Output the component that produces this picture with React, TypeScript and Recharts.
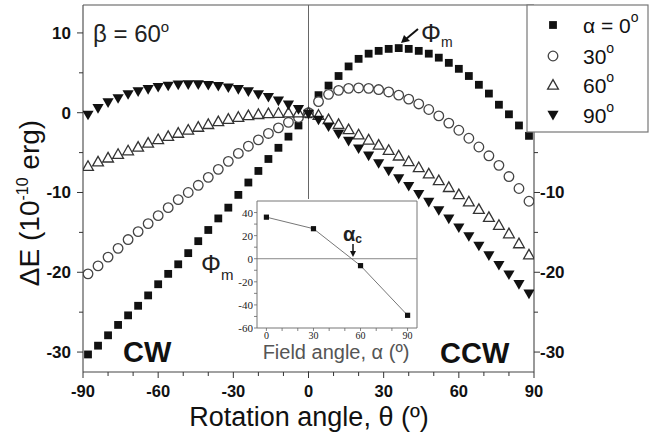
import React from 'react';
import {
  ScatterChart, Scatter, XAxis, YAxis, ReferenceLine,
  LineChart, Line,
} from 'recharts';

// ---------- data ----------
const theta = [-88, -84, -80, -76, -72, -68, -64, -60, -56, -52, -48, -44, -40, -36, -32, -28, -24, -20, -16, -12, -8, -4, 0, 4, 8, 12, 16, 20, 24, 28, 32, 36, 40, 44, 48, 52, 56, 60, 64, 68, 72, 76, 80, 84, 88];
const alpha0 = [-30.3, -29.2, -27.9, -26.6, -25.4, -24.2, -22.9, -21.5, -20.2, -19.0, -17.6, -16.1, -14.7, -13.25, -11.9, -10.3, -8.75, -7.3, -5.8, -4.4, -3.0, -1.6, -0.2, 2.2, 3.4, 4.6, 5.8, 6.75, 7.4, 7.75, 8.0, 8.1, 8.0, 7.75, 7.4, 6.9, 6.25, 5.5, 4.6, 3.5, 2.4, 1.0, -0.2, -1.6, -2.9];
const alpha30 = [-20.2, -19.2, -18.1, -17.0, -15.9, -14.9, -13.9, -12.9, -11.9, -10.9, -10.0, -9.1, -8.1, -7.1, -6.1, -5.1, -4.2, -3.4, -2.6, -1.9, -1.2, -0.6, 0, 1.4, 2.3, 2.8, 3.05, 3.1, 3.05, 2.9, 2.6, 2.2, 1.7, 1.1, 0.4, -0.4, -1.3, -2.2, -3.2, -4.3, -5.4, -6.6, -8.0, -9.5, -11.1];
const alpha60 = [-6.7, -6.15, -5.65, -5.2, -4.75, -4.3, -3.8, -3.35, -2.95, -2.55, -2.15, -1.8, -1.45, -1.1, -0.8, -0.55, -0.35, -0.2, -0.1, -0.05, 0, 0, 0, -0.3, -0.85, -1.45, -2.1, -2.75, -3.4, -4.05, -4.7, -5.4, -6.1, -6.85, -7.65, -8.5, -9.35, -10.25, -11.15, -12.1, -13.1, -14.1, -15.15, -16.4, -17.8];
const alpha90 = [-0.28, 0.55, 1.27, 1.8, 2.3, 2.65, 2.94, 3.2, 3.36, 3.5, 3.53, 3.53, 3.45, 3.32, 3.15, 2.94, 2.65, 2.3, 1.95, 1.5, 1.0, 0.43, -0.15, -0.9, -1.75, -2.65, -3.55, -4.5, -5.4, -6.35, -7.3, -8.25, -9.2, -10.2, -11.2, -12.25, -13.3, -14.4, -15.5, -16.7, -17.9, -19.1, -20.3, -21.5, -22.7];

const xTicks = [-90, -80, -70, -60, -50, -40, -30, -20, -10, 0, 10, 20, 30, 40, 50, 60, 70, 80, 90];
const yTicks = [-30, -25, -20, -15, -10, -5, 0, 5, 10];
const legendLabels = ['\u03B1 = 0', '30', '60', '90'];

const fieldAngle = [0, 30, 60, 90];
const phiM = [36, 26, -6, -49];
const insetXTicks = [0, 10, 20, 30, 40, 50, 60, 70, 80, 90];
const insetYTicks = [-60, -50, -40, -30, -20, -10, 0, 10, 20, 30, 40];

const toPts = (ys: number[]) => theta.map((t, i) => ({ x: t, y: ys[i] }));
const insetData = fieldAngle.map((a, i) => ({ x: a, y: phiM[i] }));

const SANS = '"Liberation Sans", Arial, sans-serif';
const SERIF = '"Liberation Serif", "DejaVu Serif", serif';

// ---------- markers ----------
const SquareM = ({ cx, cy }: any) => (
  <rect x={cx - 3.9} y={cy - 3.9} width={7.8} height={7.8} fill="#111" />
);
const CircleM = ({ cx, cy }: any) => (
  <circle cx={cx} cy={cy} r={4.8} fill="#fff" stroke="#444" strokeWidth={1.3} />
);
const TriUpM = ({ cx, cy }: any) => (
  <polygon
    points={`${cx},${cy - 5.4} ${cx + 5.4},${cy + 4.2} ${cx - 5.4},${cy + 4.2}`}
    fill="#fff" stroke="#333" strokeWidth={1.3} strokeLinejoin="miter"
  />
);
const TriDownM = ({ cx, cy }: any) => (
  <polygon
    points={`${cx - 5.6},${cy - 4.2} ${cx + 5.6},${cy - 4.2} ${cx},${cy + 5.4}`}
    fill="#111"
  />
);

// ---------- ticks ----------
const XTick = ({ x, y, payload }: any) => {
  const v = payload.value;
  const major = v % 30 === 0;
  return (
    <g>
      <line x1={x} y1={y} x2={x} y2={y + (major ? 6 : 4)} stroke="#333" strokeWidth={1} />
      {major && (
        <text x={x} y={y + 25} textAnchor="middle" fontFamily={SANS} fontWeight="bold" fontSize={16.5} fill="#111">
          {v}
        </text>
      )}
    </g>
  );
};
const YTickL = ({ x, y, payload }: any) => {
  const v = payload.value;
  const major = v % 10 === 0;
  return (
    <g>
      <line x1={x} y1={y} x2={x - (major ? 6 : 4)} y2={y} stroke="#333" strokeWidth={1} />
      {major && (
        <text x={x - 12} y={y + 6} textAnchor="end" fontFamily={SANS} fontWeight="bold" fontSize={17} fill="#111">
          {v}
        </text>
      )}
    </g>
  );
};
const YTickR = ({ x, y, payload }: any) => {
  const v = payload.value;
  const major = v % 10 === 0;
  return (
    <g>
      <line x1={x} y1={y} x2={x + (major ? 6 : 4)} y2={y} stroke="#333" strokeWidth={1} />
      {major && (
        <text x={x + 6} y={y + 6} textAnchor="start" fontFamily={SANS} fontWeight="bold" fontSize={17} fill="#111">
          {v}
        </text>
      )}
    </g>
  );
};
const IXTick = ({ x, y, payload }: any) => {
  const v = payload.value;
  const major = v % 30 === 0;
  return (
    <g>
      <line x1={x} y1={y} x2={x} y2={y + 3} stroke="#666" strokeWidth={0.8} />
      {major && (
        <text x={x} y={y + 11} textAnchor="middle" fontFamily={SERIF} fontSize={10} fill="#222">
          {v}
        </text>
      )}
    </g>
  );
};
const IYTick = ({ x, y, payload }: any) => {
  const v = payload.value;
  const major = v % 20 === 0;
  return (
    <g>
      <line x1={x} y1={y} x2={x - 3} y2={y} stroke="#666" strokeWidth={0.8} />
      {major && (
        <text x={x - 4} y={y + 4} textAnchor="end" fontFamily={SERIF} fontSize={11} fill="#222">
          {v}
        </text>
      )}
    </g>
  );
};
const InsetDot = ({ cx, cy }: any) => (
  <rect x={cx - 2.6} y={cy - 2.6} width={5.2} height={5.2} fill="#111" />
);

const legendMarkers = [SquareM, CircleM, TriUpM, TriDownM];
const legendY = [25, 56, 85, 115];

export default function App() {
  return (
    <div style={{ position: 'absolute', left: 0, top: 0, width: 652, height: 435, background: '#fff', fontFamily: SANS }}>
      <div style={{ position: 'absolute', left: 0, top: 0 }}>
        <ScatterChart width={652} height={435} margin={{ top: 5, right: 73, bottom: 0, left: 0 }}>
          <XAxis
            type="number" dataKey="x" domain={[-90, 90]} ticks={xTicks} allowDataOverflow
            height={63} tickSize={0} tickMargin={0} tickLine={false} tick={<XTick />}
            axisLine={{ stroke: '#444', strokeWidth: 1.2 }} interval={0}
          />
          <YAxis
            yAxisId="l" type="number" dataKey="y" domain={[-32.5, 13.5]} ticks={yTicks} allowDataOverflow
            width={83} tickSize={0} tickMargin={0} tickLine={false} tick={<YTickL />}
            axisLine={{ stroke: '#555', strokeWidth: 1.2 }} interval={0}
          />
          <YAxis
            yAxisId="r" orientation="right" type="number" domain={[-32.5, 13.5]} ticks={yTicks} allowDataOverflow
            width={45} tickSize={0} tickMargin={0} tickLine={false} tick={<YTickR />}
            axisLine={{ stroke: '#555', strokeWidth: 1.2 }} interval={0}
          />
          <ReferenceLine yAxisId="l" y={13.5} stroke="#555" strokeWidth={1.2} />
          <ReferenceLine yAxisId="l" x={0} stroke="#666" strokeWidth={1} />
          <Scatter yAxisId="l" data={toPts(alpha0)} shape={<SquareM />} isAnimationActive={false} />
          <Scatter yAxisId="l" data={toPts(alpha30)} shape={<CircleM />} isAnimationActive={false} />
          <Scatter yAxisId="l" data={toPts(alpha60)} shape={<TriUpM />} isAnimationActive={false} />
          <Scatter yAxisId="l" data={toPts(alpha90)} shape={<TriDownM />} isAnimationActive={false} />
        </ScatterChart>
      </div>

      {/* inset background */}
      <div style={{ position: 'absolute', left: 236, top: 199, width: 182, height: 172, background: '#fff' }} />

      {/* inset chart */}
      <div style={{ position: 'absolute', left: 200, top: 190 }}>
        <LineChart width={230} height={175} data={insetData} margin={{ top: 11, right: 13, left: 0, bottom: 0 }}>
          <XAxis
            type="number" dataKey="x" domain={[-6, 96]} ticks={insetXTicks} allowDataOverflow interval={0}
            height={37} tickSize={0} tickMargin={0} tickLine={false} tick={<IXTick />}
            axisLine={{ stroke: '#777', strokeWidth: 1 }}
          />
          <YAxis
            type="number" domain={[-60, 50]} ticks={insetYTicks} allowDataOverflow interval={0}
            width={57} tickSize={0} tickMargin={0} tickLine={false} tick={<IYTick />}
            axisLine={{ stroke: '#777', strokeWidth: 1 }}
          />
          <ReferenceLine y={50} stroke="#777" strokeWidth={1} />
          <ReferenceLine x={96} stroke="#777" strokeWidth={1} />
          <ReferenceLine y={0} stroke="#888" strokeWidth={1} />
          <Line dataKey="y" stroke="#777" strokeWidth={1} dot={<InsetDot />} isAnimationActive={false} />
        </LineChart>
      </div>

      {/* annotations */}
      <svg width={652} height={435} style={{ position: 'absolute', left: 0, top: 0, pointerEvents: 'none' }}>
        <text x={93} y={42} fontFamily={SANS} fontSize={24} fill="#222">
          β = 60<tspan fontSize={15} dy={-10}>o</tspan>
        </text>

        <text x={421} y={42} fontFamily={SANS} fontSize={25} fill="#222">
          Φ<tspan fontSize={14} dy={5}>m</tspan>
        </text>
        <line x1={418} y1={29} x2={406} y2={39} stroke="#111" strokeWidth={2} />
        <polygon points="401,43 404,35 410,41" fill="#111" />

        <text x={123} y={362} fontFamily={SANS} fontWeight="bold" fontSize={29} fill="#111">CW</text>
        <text x={440} y={363} fontFamily={SANS} fontWeight="bold" fontSize={29} fill="#111">CCW</text>

        <text x={309} y={425.5} textAnchor="middle" fontFamily={SANS} fontSize={27} fill="#111">
          Rotation angle, θ (º)
        </text>
        <text transform="translate(39,203) rotate(-90)" textAnchor="middle" fontFamily={SANS} fontSize={28} fill="#111">
          ΔE (10<tspan fontSize={16} dy={-11}>-10</tspan><tspan dy={11}> erg)</tspan>
        </text>

        {/* inset labels */}
        <text x={201} y={273} fontFamily={SANS} fontSize={25} fill="#222">
          Φ<tspan fontSize={15} dy={7}>m</tspan>
        </text>
        <text x={336} y={359} textAnchor="middle" fontFamily={SANS} fontSize={20} fill="#555">
          Field angle, α (º)
        </text>
        <text x={343} y={241} fontFamily={SANS} fontWeight="bold" fontSize={20} fill="#222">
          α<tspan fontSize={12} dy={2}>c</tspan>
        </text>
        <line x1={353} y1={244} x2={353} y2={252} stroke="#111" strokeWidth={1.5} />
        <polygon points="350,251 356,251 353,257" fill="#111" />

        {/* legend */}
        <rect x={527} y={5} width={121} height={127} fill="#fff" stroke="#777" strokeWidth={1.2} />
        {legendMarkers.map((M, i) => (
          <g key={i}>
            <M cx={553} cy={legendY[i]} />
            <text x={583} y={legendY[i] + 8} fontFamily={SANS} fontSize={21} fill="#111">
              {legendLabels[i]}<tspan fontSize={14} dy={-11}>o</tspan>
            </text>
          </g>
        ))}
      </svg>
    </div>
  );
}
